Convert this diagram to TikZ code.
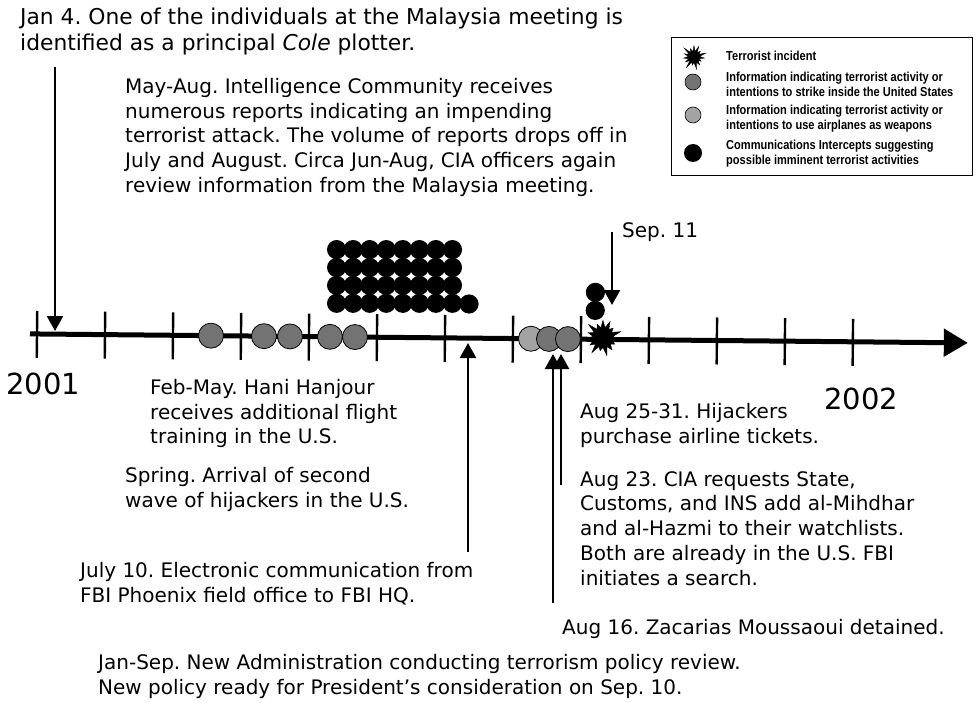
\documentclass[tikz,border=0pt]{standalone}
\usepackage{fontspec}
\setmainfont{DejaVu Sans}
\newfontfamily\legendfont[FakeStretch=0.85]{Liberation Sans}
\usetikzlibrary{arrows.meta,shapes.symbols}
\definecolor{infoA}{gray}{0.45}
\definecolor{infoB}{gray}{0.64}
\begin{document}
\frenchspacing
\begin{tikzpicture}[x=1pt,y=-1pt,
  txt/.style={anchor=north west, align=left, inner sep=0pt, font=\fontsize{20}{24.8}\selectfont},
  bigtxt/.style={anchor=north west, align=left, inner sep=0pt, font=\fontsize{21.8}{26}\selectfont},
  year/.style={anchor=north west, inner sep=0pt, font=\fontsize{29}{30}\selectfont},
  legtxt/.style={anchor=north west, align=left, inner sep=0pt, font=\legendfont\bfseries\fontsize{13}{14.8}\selectfont},
  conn/.style={line width=2.4pt, -{Triangle[length=15pt,width=16pt]}},
  tickmark/.style={line width=2.4pt},
  infoa/.style={circle, draw=black, line width=0.8pt, fill=infoA, minimum size=25pt, inner sep=0pt},
  infob/.style={circle, draw=black, line width=0.8pt, fill=infoB, minimum size=25pt, inner sep=0pt},
  intercept/.style={circle, fill=black, minimum size=19.2pt, inner sep=0pt},
  burst/.style={starburst, fill=black, draw=black, inner sep=0pt, starburst points=15, starburst point height=10pt}
]
\useasboundingbox (0,0) rectangle (979,703);

% ---------- timeline (slightly tilted like the scan) ----------
\begin{scope}[rotate around={-0.55:(37,334)}]
  \coordinate (tlstart) at (30,334);
  \coordinate (tlend) at (968,334);
  \draw[line width=5pt, -{Triangle[length=24pt,width=27pt]}] (tlstart) -- (tlend);
  \foreach \k in {0,...,12} {
    \coordinate (tt\k) at ({37+68*\k},311);
    \coordinate (tb\k) at ({37+68*\k},358);
    \draw[tickmark] (tt\k) -- (tb\k);
  }
  % info circles
  \node[infoa] (c1) at (211,334) {};
  \node[infoa] (c2) at (264,334) {};
  \node[infoa] (c3) at (290,334) {};
  \node[infoa] (c4) at (330,334) {};
  \node[infoa] (c5) at (355,334) {};
  \node[infob] (c6) at (531,334) {};
  \node[infoa] (c7) at (549,334) {};
  \node[infoa] (c8) at (568,334) {};
  % terrorist incident
  \node[burst, minimum size=40pt] (sep11burst) at (603,332) {};
  % intercepts above Sep 11
  \node[intercept] (s1) at (595,287) {};
  \node[intercept] (s2) at (595,305) {};
\end{scope}

% grid of intercepts
\foreach \i in {0,...,7} {
  \foreach \j in {0,...,3} {
    \node[intercept] (g\i\j) at ({336.6+16.55*\i},{249.6+17.9*\j}) {};
  }
}
\node[intercept] (gextra) at (469,304) {};

% ---------- arrows ----------
\coordinate (jan4top) at (55,67);
\coordinate (jan4tip) at (55,331);
\draw[conn] (jan4top) -- (jan4tip);

\coordinate (sepTop) at (612,232);
\coordinate (sepTip) at (612,305);
\draw[conn] (sepTop) -- (sepTip);

\coordinate (julBot) at (468,552);
\coordinate (julTip) at (468,343);
\draw[conn] (julBot) -- (julTip);

\coordinate (a16Bot) at (553,603);
\coordinate (a16Tip) at (553,354);
\draw[conn] (a16Bot) -- (a16Tip);

\coordinate (a23Bot) at (561,485);
\coordinate (a23Tip) at (561,354);
\draw[conn] (a23Bot) -- (a23Tip);

% ---------- texts ----------
\node[bigtxt] (tjan4) at (20,8) {Jan 4. One of the individuals at the Malaysia meeting is\\identified as a principal \textit{Cole} plotter.};
\node[txt] (tmay) at (125,78) {May-Aug. Intelligence Community receives\\numerous reports indicating an impending\\terrorist attack. The volume of reports drops off in\\July and August. Circa Jun-Aug, CIA officers again\\review information from the Malaysia meeting.};
\node[txt] (tsep) at (622,222) {Sep. 11};
\node[year] (y2001) at (6,373) {2001};
\node[year] (y2002) at (824,388) {2002};
\node[txt] (tfeb) at (150,379) {Feb-May. Hani Hanjour\\receives additional flight\\training in the U.S.};
\node[txt] (tspring) at (125,467) {Spring. Arrival of second\\wave of hijackers in the U.S.};
\node[txt] (tjul) at (80,562) {July 10. Electronic communication from\\FBI Phoenix field office to FBI HQ.};
\node[txt] (ta25) at (580,403) {Aug 25-31. Hijackers\\purchase airline tickets.};
\node[txt] (ta23) at (580,471) {Aug 23. CIA requests State,\\Customs, and INS add al-Mihdhar\\and al-Hazmi to their watchlists.\\Both are already in the U.S. FBI\\initiates a search.};
\node[txt] (ta16) at (562,619) {Aug 16. Zacarias Moussaoui detained.};
\node[txt] (tjansep) at (98,654) {Jan-Sep. New Administration conducting terrorism policy review.\\New policy ready for President's consideration on Sep. 10.};

% ---------- legend ----------
\node[draw=black, line width=1.2pt, minimum width=301pt, minimum height=138pt, anchor=north west, inner sep=0pt] (legend) at (671,37) {};
\node[burst, minimum size=27pt, starburst point height=8pt] (lburst) at (694,57) {};
\node[circle, draw=black, line width=0.6pt, fill=infoA, minimum size=16pt, inner sep=0pt] (lcA) at (693,82) {};
\node[circle, draw=black, line width=0.6pt, fill=infoB, minimum size=16pt, inner sep=0pt] (lcB) at (693,115) {};
\node[circle, fill=black, minimum size=18pt, inner sep=0pt] (lcC) at (693,153) {};
\node[legtxt] (l1) at (726,51) {Terrorist incident};
\node[legtxt] (l2) at (726,72) {Information indicating terrorist activity or\\intentions to strike inside the United States};
\node[legtxt] (l3) at (726,105) {Information indicating terrorist activity or\\intentions to use airplanes as weapons};
\node[legtxt] (l4) at (726,140) {Communications Intercepts suggesting\\possible imminent terrorist activities};
\end{tikzpicture}
\end{document}
